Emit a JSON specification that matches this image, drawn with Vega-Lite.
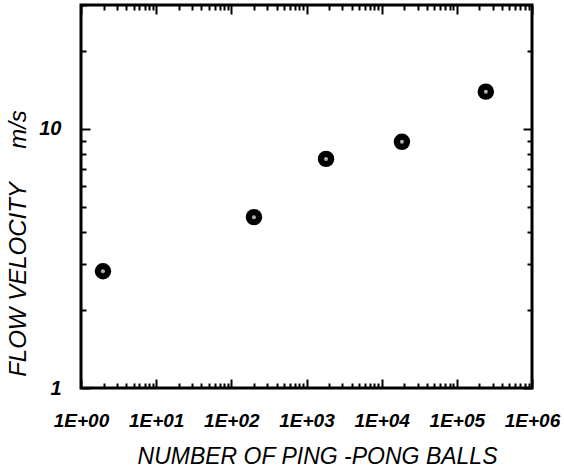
{
  "$schema": "https://vega.github.io/schema/vega-lite/v6.json",
  "autosize": "none",
  "width": 451,
  "height": 383,
  "padding": {"left": 81, "top": 5, "right": 32, "bottom": 85},
  "background": "white",
  "config": {
    "view": {"stroke": "black", "strokeWidth": 3},
    "font": "Liberation Sans",
    "axis": {
      "domain": false,
      "grid": false,
      "tickColor": "black",
      "labelColor": "black",
      "titleColor": "black",
      "labelFont": "Liberation Sans",
      "titleFont": "Liberation Sans",
      "labelFontStyle": "italic",
      "labelFontWeight": "bold",
      "titleFontStyle": "italic",
      "titleFontWeight": "normal",
      "labelFlush": false
    }
  },
  "data": {
    "values": [
      {"n": 1.96, "v": 2.82},
      {"n": 200, "v": 4.56},
      {"n": 1820, "v": 7.65},
      {"n": 18600, "v": 8.9},
      {"n": 243000, "v": 13.9}
    ]
  },
  "resolve": {"axis": {"x": "independent", "y": "independent"}},
  "layer": [
    {
      "mark": {"type": "point", "filled": true, "color": "black", "size": 270, "opacity": 1},
      "encoding": {
        "x": {
          "field": "n", "type": "quantitative",
          "scale": {"type": "log", "domain": [1, 1000000], "nice": false},
          "axis": {
            "orient": "bottom",
            "title": "NUMBER OF PING -PONG BALLS",
            "titleFontSize": 23,
            "titleX": 236,
            "titleY": 75,
            "titleBaseline": "alphabetic",
            "labelFontSize": 19,
            "labelPadding": 32,
            "labelExpr": "abs(log(datum.value)/LN10 - round(log(datum.value)/LN10)) < 0.001 ? '1E+0' + round(log(datum.value)/LN10) : ''",
            "labelOverlap": false,
            "values": [1,2,3,4,5,6,7,8,9,10,20,30,40,50,60,70,80,90,100,200,300,400,500,600,700,800,900,1000,2000,3000,4000,5000,6000,7000,8000,9000,10000,20000,30000,40000,50000,60000,70000,80000,90000,100000,200000,300000,400000,500000,600000,700000,800000,900000,1000000],
            "tickSize": {"condition": {"test": "abs(log(datum.value)/LN10 - round(log(datum.value)/LN10)) < 0.001", "value": -9}, "value": -5},
            "tickWidth": 2
          }
        },
        "y": {
          "field": "v", "type": "quantitative",
          "scale": {"type": "log", "domain": [1, 30], "nice": false},
          "axis": {
            "orient": "left",
            "title": "FLOW VELOCITY\u00a0\u00a0\u00a0\u00a0\u00a0m/s",
            "titleFontSize": 24,
            "titleX": -56,
            "titleY": 238,
            "titleAngle": -90,
            "titleAlign": "center",
            "titleBaseline": "alphabetic",
            "labelFontSize": 20,
            "labelPadding": 29,
            "labelExpr": "datum.value == 1 || datum.value == 10 ? datum.value : ''",
            "labelOverlap": false,
            "values": [1,2,3,4,5,6,7,8,9,10,20,30],
            "tickSize": {"condition": {"test": "datum.value == 1 || datum.value == 10", "value": -9}, "value": -5},
            "tickWidth": 2
          }
        }
      }
    },
    {
      "mark": {"type": "point", "filled": true, "color": "#b0b0b0", "size": 16, "opacity": 1},
      "encoding": {
        "x": {
          "field": "n", "type": "quantitative",
          "scale": {"type": "log", "domain": [1, 1000000], "nice": false},
          "axis": {
            "orient": "top",
            "title": null,
            "labels": false,
            "values": [1,2,3,4,5,6,7,8,9,10,20,30,40,50,60,70,80,90,100,200,300,400,500,600,700,800,900,1000,2000,3000,4000,5000,6000,7000,8000,9000,10000,20000,30000,40000,50000,60000,70000,80000,90000,100000,200000,300000,400000,500000,600000,700000,800000,900000,1000000],
            "tickSize": {"condition": {"test": "abs(log(datum.value)/LN10 - round(log(datum.value)/LN10)) < 0.001", "value": -9}, "value": -5},
            "tickWidth": 2
          }
        },
        "y": {
          "field": "v", "type": "quantitative",
          "scale": {"type": "log", "domain": [1, 30], "nice": false},
          "axis": {
            "orient": "right",
            "title": null,
            "labels": false,
            "values": [1,2,3,4,5,6,7,8,9,10,20,30],
            "tickSize": {"condition": {"test": "datum.value == 1 || datum.value == 10", "value": -9}, "value": -5},
            "tickWidth": 2
          }
        }
      }
    }
  ]
}
